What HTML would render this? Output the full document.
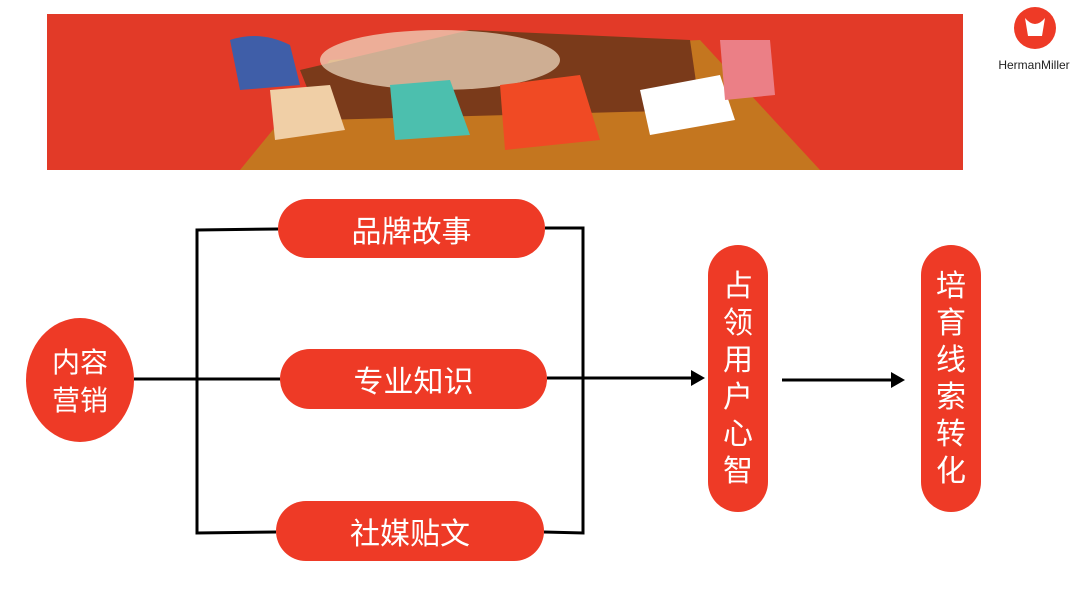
<!DOCTYPE html>
<html><head><meta charset="utf-8"><style>
body{margin:0;width:1080px;height:604px;background:#fff;position:relative;overflow:hidden;font-family:"Liberation Sans","Noto Sans CJK SC",sans-serif}
.p{position:absolute;background:#ee3a26;color:#fff;display:flex;align-items:center;justify-content:center;font-size:30px}
.v{flex-direction:column;font-size:30px;line-height:37px}
</style></head><body>
<svg width="1080" height="604" style="position:absolute;left:0;top:0">
<rect x="47" y="14" width="916" height="156" fill="#e23a28"/>
<polygon points="240,170 330,60 700,40 820,170" fill="#c4761f"/>
<polygon points="300,70 470,30 690,40 700,110 320,120" fill="#7a3a1a"/>
<ellipse cx="440" cy="60" rx="120" ry="30" fill="#f2e0c8" opacity=".7"/>
<path d="M230,40 Q260,30 290,45 L300,85 L240,90 Z" fill="#3f5ea8"/>
<path d="M270,90 L330,85 L345,130 L275,140 Z" fill="#f0cfa6"/>
<path d="M390,85 L450,80 L470,135 L395,140 Z" fill="#4cbfae"/>
<path d="M500,85 L580,75 L600,140 L505,150 Z" fill="#f04a24"/>
<path d="M640,90 L720,75 L735,120 L650,135 Z" fill="#fff"/>
<path d="M720,40 L770,40 L775,95 L725,100 Z" fill="#eb7f86"/>
<circle cx="1035" cy="28" r="21" fill="#ee3a26"/>
<path d="M1025,18 L1028,36 L1042,36 L1045,18 Q1035,30 1025,18Z" fill="#fff"/>
<text x="1034" y="69" font-size="12" text-anchor="middle" fill="#222" font-family="Liberation Sans">HermanMiller</text>
<g stroke="#000" stroke-width="3" fill="none">
<polyline points="278,229 197,230 197,533 276,532"/>
<polyline points="545,228 583,228 583,533 544,532"/>
<line x1="134" y1="379" x2="280" y2="379"/>
<line x1="547" y1="378" x2="694" y2="378"/>
<line x1="782" y1="380" x2="894" y2="380"/>
</g>
<polygon points="705,378 691,370 691,386" fill="#000"/>
<polygon points="905,380 891,372 891,388" fill="#000"/>
<ellipse cx="80" cy="380" rx="54" ry="62" fill="#ee3a26"/>
<text x="80" y="372" font-size="28" fill="#fff" text-anchor="middle" font-family="Noto Sans CJK SC">内容</text>
<text x="80" y="410" font-size="28" fill="#fff" text-anchor="middle" font-family="Noto Sans CJK SC">营销</text>
</svg>
<div class="p" style="left:278px;top:199px;width:267px;height:59px;border-radius:30px">品牌故事</div>
<div class="p" style="left:280px;top:349px;width:267px;height:60px;border-radius:30px">专业知识</div>
<div class="p" style="left:276px;top:501px;width:268px;height:60px;border-radius:30px">社媒贴文</div>
<div class="p v" style="left:708px;top:245px;width:60px;height:267px;border-radius:30px">占<br>领<br>用<br>户<br>心<br>智</div>
<div class="p v" style="left:921px;top:245px;width:60px;height:267px;border-radius:30px">培<br>育<br>线<br>索<br>转<br>化</div>
</body></html>
